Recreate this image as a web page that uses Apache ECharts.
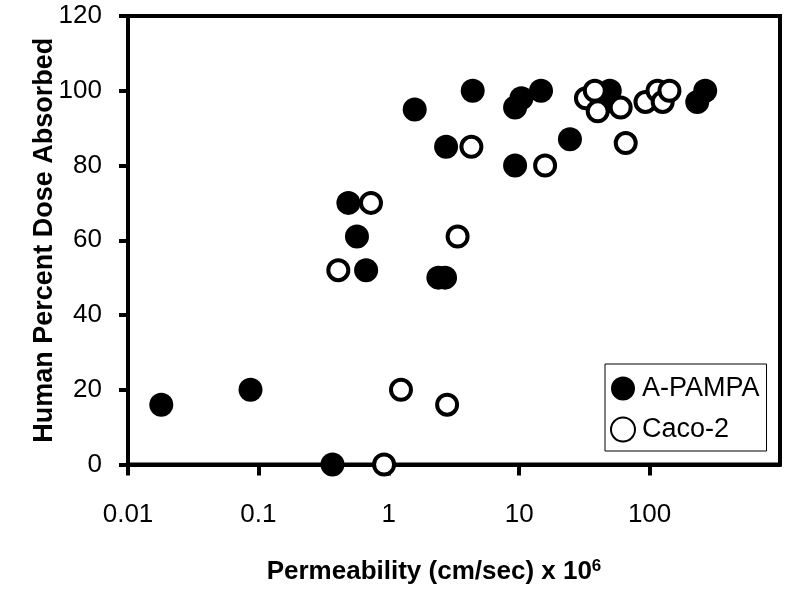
<!DOCTYPE html>
<html><head><meta charset="utf-8">
<script src="https://cdn.jsdelivr.net/npm/echarts@6/dist/echarts.min.js"></script>
<style>html,body{margin:0;padding:0;background:#fff}#c{width:786px;height:590px}</style>
</head><body><div id="c"></div>
<script>
// A-PAMPA: permeability (x1e6 cm/sec) and human % dose absorbed
const pampaX = [0.018, 0.087, 0.37, 0.49, 0.57, 0.67, 2.4, 2.7, 1.58, 2.75, 4.4, 9.3, 9.3, 10.4, 14.7, 24.5, 45, 49.5, 232, 267];
const pampaY = [16, 20, 0, 70, 61, 52, 50, 50, 95, 85, 100, 80, 95.5, 98, 100, 87, 97, 100, 97, 100];
// Caco-2
const cacoX = [0.41, 0.73, 3.37, 1.24, 2.8, 0.92, 4.3, 15.8, 65.6, 32.5, 38, 40, 60, 93, 115, 126, 142];
const cacoY = [52, 70, 61, 20, 16, 0, 85, 80, 86, 98, 100, 94.5, 95.5, 97, 100, 97, 100];
const xTicks = [0.01, 0.1, 1, 10, 100];
const seriesNames = ['A-PAMPA', 'Caco-2'];

const font = 'Liberation Sans, Arial, Helvetica, sans-serif';
const zip = (a, b) => a.map((v, i) => [v, b[i]]);

const chart = echarts.init(document.getElementById('c'), null, {renderer: 'canvas'});
chart.setOption({
  animation: false,
  backgroundColor: '#fff',
  textStyle: {fontFamily: font, color: '#000'},
  grid: {left: 128, right: 6, top: 16, bottom: 125, show: true, borderColor: '#000', borderWidth: 4, backgroundColor: 'transparent'},
  xAxis: {
    type: 'log', logBase: 10, min: 0.01, max: 1000,
    axisLine: {show: true, onZero: false, lineStyle: {color: '#000', width: 4}},
    axisTick: {show: true, inside: false, length: 11, lineStyle: {color: '#000', width: 4}, customValues: xTicks},
    axisLabel: {fontSize: 26, color: '#000', fontFamily: font, margin: 37, customValues: xTicks,
      formatter: v => (v >= 1000 ? '' : String(+Number(v).toPrecision(6)))},
    splitLine: {show: false},
    minorTick: {show: false},
    name: '{a|Permeability (cm/sec) x 10}{s|6}',
    nameLocation: 'middle', nameGap: 93, nameMoveOverlap: false,
    nameTextStyle: {padding: [0, 40, 0, 0],
      rich: {a: {fontSize: 26, fontWeight: 'bold', fontFamily: font, color: '#000'},
             s: {fontSize: 17, fontWeight: 'bold', fontFamily: font, color: '#000', verticalAlign: 'top', padding: [0, 0, 12, 0]}}}
  },
  yAxis: {
    type: 'value', min: 0, max: 120, interval: 20,
    axisLine: {show: true, onZero: false, lineStyle: {color: '#000', width: 4}},
    axisTick: {show: true, inside: false, length: 9, lineStyle: {color: '#000', width: 4}},
    axisLabel: {fontSize: 26, color: '#000', fontFamily: font, margin: 26},
    splitLine: {show: false},
    name: 'Human Percent Dose Absorbed',
    nameLocation: 'middle', nameGap: 70, nameMoveOverlap: false,
    nameTextStyle: {fontSize: 27, fontWeight: 'bold', fontFamily: font, color: '#000'}
  },
  legend: {
    data: seriesNames,
    orient: 'vertical', left: 605, top: 364,
    padding: [11, 7, 8, 5], itemGap: 14, itemWidth: 28, itemHeight: 24,
    backgroundColor: '#fff', borderColor: '#000', borderWidth: 1,
    textStyle: {fontSize: 27, color: '#000', fontFamily: font}
  },
  series: [
    {name: seriesNames[0], type: 'scatter', symbol: 'circle', symbolSize: 24,
      itemStyle: {color: '#000', opacity: 1}, data: zip(pampaX, pampaY), clip: false},
    {name: seriesNames[1], type: 'scatter', symbol: 'circle', symbolSize: 20,
      itemStyle: {color: '#fff', borderColor: '#000', borderWidth: 4, opacity: 1}, data: zip(cacoX, cacoY), clip: false}
  ]
});
</script></body></html>
